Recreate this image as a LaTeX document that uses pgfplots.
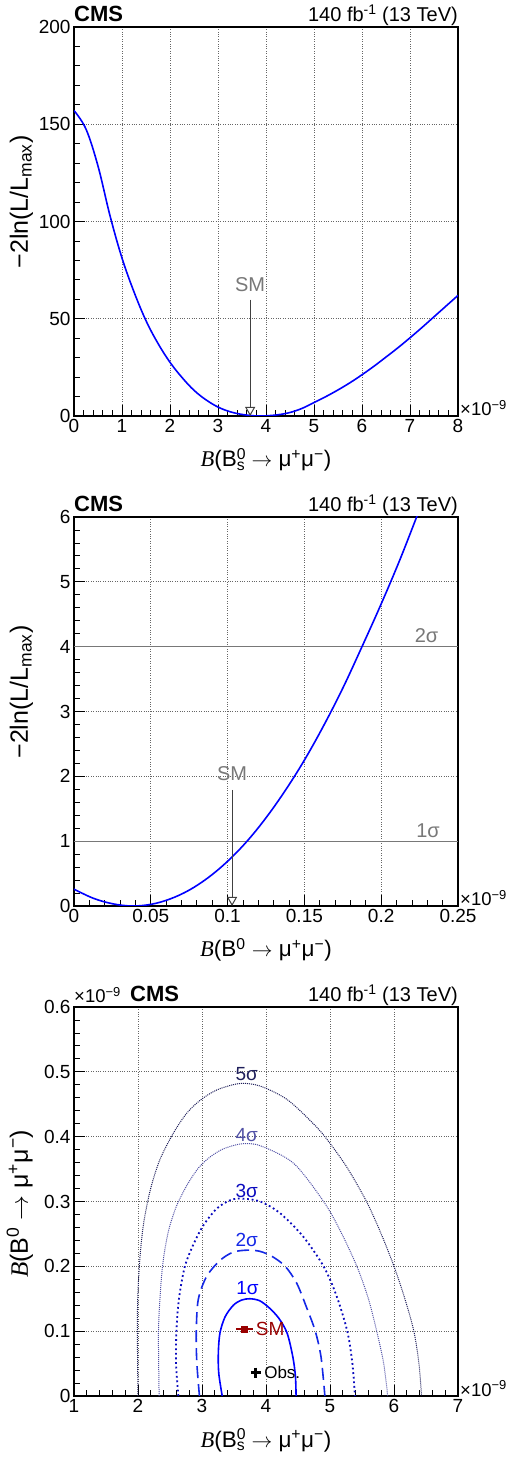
\documentclass[border=0pt]{standalone}
\usepackage{fontspec}
\setmainfont{Liberation Sans}
\newfontfamily\tnr{Liberation Serif}
\usepackage{pgfplots}
\pgfplotsset{compat=1.18}
\usetikzlibrary{arrows.meta}
\definecolor{smred}{RGB}{153,0,0}
\definecolor{c1}{RGB}{0,0,255}
\definecolor{c2}{RGB}{20,40,230}
\definecolor{c3}{RGB}{10,10,190}
\definecolor{c4}{RGB}{80,80,165}
\definecolor{c5}{RGB}{30,30,90}
\definecolor{smgray}{RGB}{120,120,120}
\newcommand\tl{\fontsize{19}{22}\selectfont}
\newcommand\al{\fontsize{22.5}{25}\selectfont}
\newcommand\yl{\fontsize{25}{28}\selectfont}
\newcommand\Bit{{\tnr\itshape B}}
\newcommand\arr{ $\rightarrow$ }
\newcommand\mumu{μ\textsuperscript{+}μ\textsuperscript{−}}
\newcommand\xten{×10\textsuperscript{−9}}
\pgfplotsset{rootax/.style={
 scale only axis, width=384pt, height=389pt,
 clip mode=individual,
 axis line style={black, line width=1.1pt},
 tick align=inside, xtick pos=left, ytick pos=left,
 major tick length=11pt, minor tick length=6pt,
 tick style={black, line width=0.8pt},
 minor tick num=4,
 grid=major, major grid style={dotted, black!60, line width=0.7pt},
 ticklabel style={font=\tl},
 /pgf/number format/assume math mode=true,
 scaled ticks=false,
 xlabel style={at={(axis description cs:0.5,0)}, anchor=base, yshift=-51pt, font=\al},
 ylabel style={at={(axis description cs:-0.12,0.55)}, anchor=base, font=\yl},
}}
\begin{document}
\begin{tikzpicture}
\path[use as bounding box] (-74pt,-63pt) rectangle (447pt,1396pt);

% ---------------- Panel 1 ----------------
\begin{axis}[rootax, at={(0pt,980pt)}, anchor=south west,
 xmin=0, xmax=8, ymin=0, ymax=200,
 xtick={0,1,2,3,4,5,6,7,8}, ytick={0,50,100,150,200},
 xlabel={\Bit(B\rlap{\textsuperscript{0}}\textsubscript{s}\arr\mumu)},
 ylabel={−2ln(L/L\textsubscript{max})}]
\addplot[c1, line width=1.6pt, smooth, tension=0.6] coordinates {
(0,157) (0.25,147.5) (0.5,128.5) (0.75,103) (1.0,81.2) (1.25,63.8)
(1.5,49.0) (1.75,37.3) (2.0,27.6) (2.25,19.8) (2.5,13.2) (2.75,8.3)
(3.0,4.6) (3.25,2.2) (3.5,0.8) (3.75,0.1) (3.88,0) (4.0,0.07) (4.25,0.63)
(4.5,1.8) (4.75,3.9) (5.0,6.9) (5.25,10.0) (5.5,13.4) (5.75,17.1)
(6.0,21.2) (6.25,25.6) (6.5,30.3) (6.75,35.1) (7.0,40.2) (7.25,45.5)
(7.5,51.0) (7.75,56.5) (8.0,62.0)};
\draw[black!75, line width=1pt, -{Triangle[width=10pt,length=9pt,fill=white]}] (axis cs:3.67,59.8) -- (axis cs:3.67,0);
\node[smgray, font=\fontsize{20}{22}\selectfont] at (axis cs:3.67,67.5) {SM};
\node[anchor=base west, inner sep=0, yshift=5pt, font=\fontsize{22}{24}\selectfont\bfseries] at (axis description cs:0,1) {CMS};
\node[anchor=base east, inner sep=0, yshift=5pt, font=\fontsize{20}{22}\selectfont] at (axis description cs:1,1) {140 fb\textsuperscript{-1} (13 TeV)};
\node[anchor=base west, inner sep=0, xshift=2pt, font=\fontsize{18.5}{20}\selectfont] at (axis description cs:1,0) {\xten};
\end{axis}

% ---------------- Panel 2 ----------------
\begin{axis}[rootax, at={(0pt,490pt)}, anchor=south west,
 xmin=0, xmax=0.25, ymin=0, ymax=6,
 xtick={0,0.05,0.1,0.15,0.2,0.25}, xticklabels={0,0.05,0.1,0.15,0.2,0.25},
 ytick={0,1,2,3,4,5,6},
 xlabel={\Bit(B\textsuperscript{0}\arr\mumu)},
 ylabel={−2ln(L/L\textsubscript{max})}]
\addplot[smgray, line width=1.3pt] coordinates {(0,1) (0.25,1)};
\addplot[smgray, line width=1.3pt] coordinates {(0,4) (0.25,4)};
\addplot[c1, line width=1.6pt, smooth, tension=0.6] coordinates {
(0,0.26) (0.0125,0.12) (0.025,0.035) (0.0375,0) (0.05,0.025) (0.0625,0.108)
(0.075,0.245) (0.0875,0.44) (0.1,0.69) (0.1125,0.995) (0.125,1.36)
(0.1375,1.78) (0.15,2.25) (0.1625,2.78) (0.175,3.36) (0.1875,4.0)
(0.2,4.66) (0.2125,5.36) (0.225,6.12)};
\draw[black!75, line width=1pt, -{Triangle[width=10pt,length=9pt,fill=white]}] (axis cs:0.1029,1.79) -- (axis cs:0.1029,0);
\node[smgray, font=\fontsize{20}{22}\selectfont] at (axis cs:0.1029,2.04) {SM};
\node[smgray, anchor=base, font=\fontsize{20}{22}\selectfont] at (axis cs:0.2305,1.06) {1σ};
\node[smgray, anchor=base, font=\fontsize{20}{22}\selectfont] at (axis cs:0.2295,4.07) {2σ};
\node[anchor=base west, inner sep=0, yshift=5pt, font=\fontsize{22}{24}\selectfont\bfseries] at (axis description cs:0,1) {CMS};
\node[anchor=base east, inner sep=0, yshift=5pt, font=\fontsize{20}{22}\selectfont] at (axis description cs:1,1) {140 fb\textsuperscript{-1} (13 TeV)};
\node[anchor=base west, inner sep=0, xshift=2pt, font=\fontsize{18.5}{20}\selectfont] at (axis description cs:1,0) {\xten};
\end{axis}

% ---------------- Panel 3 ----------------
\begin{axis}[rootax, at={(0pt,0pt)}, anchor=south west,
 xmin=1, xmax=7, ymin=0, ymax=0.6,
 xtick={1,2,3,4,5,6,7},
 ytick={0,0.1,0.2,0.3,0.4,0.5,0.6}, yticklabels={0,0.1,0.2,0.3,0.4,0.5,0.6},
 xlabel={\Bit(B\rlap{\textsuperscript{0}}\textsubscript{s}\arr\mumu)},
 ylabel={\Bit(B\textsuperscript{0}\arr\mumu)},
 ylabel style={at={(axis description cs:-0.12,0.494)}}]
% 5 sigma
\addplot[c5, line width=1pt, dash pattern=on 1pt off 1pt, smooth, tension=0.5] coordinates {
(2.0,0) (1.99,0.122) (2.02,0.199) (2.08,0.261) (2.19,0.317) (2.34,0.364)
(2.55,0.405) (2.76,0.436) (2.97,0.456) (3.23,0.472) (3.59,0.482)
(3.91,0.478) (4.32,0.458) (4.69,0.425) (4.92,0.40) (5.25,0.355) (5.57,0.30)
(5.80,0.25) (6.0,0.20) (6.17,0.15) (6.31,0.10) (6.39,0.05) (6.43,0)};
% 4 sigma
\addplot[c4, line width=1pt, dash pattern=on 1pt off 1pt, smooth, tension=0.5] coordinates {
(2.33,0) (2.32,0.098) (2.35,0.161) (2.395,0.210) (2.48,0.256) (2.606,0.294)
(2.776,0.327) (2.947,0.352) (3.117,0.368) (3.33,0.381) (3.62,0.389)
(3.91,0.386) (4.43,0.359) (4.90,0.300) (5.16,0.255) (5.42,0.200)
(5.60,0.150) (5.73,0.100) (5.83,0.055) (5.88,0.02) (5.90,0)};
% 3 sigma
\addplot[c3, line width=1.8pt, dash pattern=on 1.8pt off 2.8pt, smooth, tension=0.5] coordinates {
(2.63,0) (2.595,0.05) (2.60,0.10) (2.64,0.15) (2.73,0.199) (2.86,0.2325)
(3.02,0.263) (3.23,0.289) (3.44,0.302) (3.62,0.3045) (3.91,0.300)
(4.22,0.282) (4.58,0.246) (4.90,0.200) (5.10,0.155) (5.27,0.100)
(5.35,0.05) (5.39,0)};
% 2 sigma
\addplot[c2, line width=1.6pt, dash pattern=on 12pt off 6pt, smooth, tension=0.5] coordinates {
(2.96,0) (2.92,0.05) (2.91,0.096) (2.94,0.148) (3.07,0.184) (3.28,0.209)
(3.49,0.222) (3.72,0.225) (3.91,0.223) (4.10,0.215) (4.30,0.200)
(4.48,0.174) (4.64,0.135) (4.77,0.100) (4.86,0.06) (4.92,0)};
% 1 sigma
\addplot[c1, line width=1.6pt, smooth, tension=0.5] coordinates {
(3.316,0) (3.262,0.035) (3.255,0.066) (3.28,0.097) (3.36,0.122) (3.49,0.140)
(3.62,0.148) (3.75,0.150) (3.90,0.147) (4.05,0.136) (4.20,0.120)
(4.33,0.097) (4.42,0.060) (4.46,0.030) (4.47,0)};
% SM point
\addplot[smred, mark=square*, mark size=3.3pt, only marks,
 error bars/.cd, x dir=both, x explicit, error mark=none,
 error bar style={smred, line width=1.5pt}] coordinates {(3.66,0.103) +- (0.135,0)};
% Observed
\addplot[black, mark=+, mark size=5pt, only marks, mark options={line width=2.6pt}] coordinates {(3.84,0.036)};
\node[smred, anchor=west, inner sep=0, font=\fontsize{19}{22}\selectfont] at (axis cs:3.84,0.103) {SM};
\node[black, anchor=west, inner sep=0, font=\fontsize{17}{20}\selectfont] at (axis cs:3.97,0.036) {Obs.};
\node[c5, font=\fontsize{19}{22}\selectfont] at (axis cs:3.70,0.496) {5σ};
\node[c4, font=\fontsize{19}{22}\selectfont] at (axis cs:3.70,0.402) {4σ};
\node[c3, font=\fontsize{19}{22}\selectfont] at (axis cs:3.70,0.317) {3σ};
\node[c2, font=\fontsize{19}{22}\selectfont] at (axis cs:3.70,0.240) {2σ};
\node[c1, font=\fontsize{19}{22}\selectfont] at (axis cs:3.71,0.166) {1σ};
\node[anchor=base west, inner sep=0, yshift=5pt, xshift=56pt, font=\fontsize{22}{24}\selectfont\bfseries] at (axis description cs:0,1) {CMS};
\node[anchor=base west, inner sep=0, yshift=4pt, font=\fontsize{18.5}{20}\selectfont] at (axis description cs:0,1) {\xten};
\node[anchor=base east, inner sep=0, yshift=5pt, font=\fontsize{20}{22}\selectfont] at (axis description cs:1,1) {140 fb\textsuperscript{-1} (13 TeV)};
\node[anchor=base west, inner sep=0, xshift=2pt, font=\fontsize{18.5}{20}\selectfont] at (axis description cs:1,0) {\xten};
\end{axis}
\end{tikzpicture}
\end{document}
